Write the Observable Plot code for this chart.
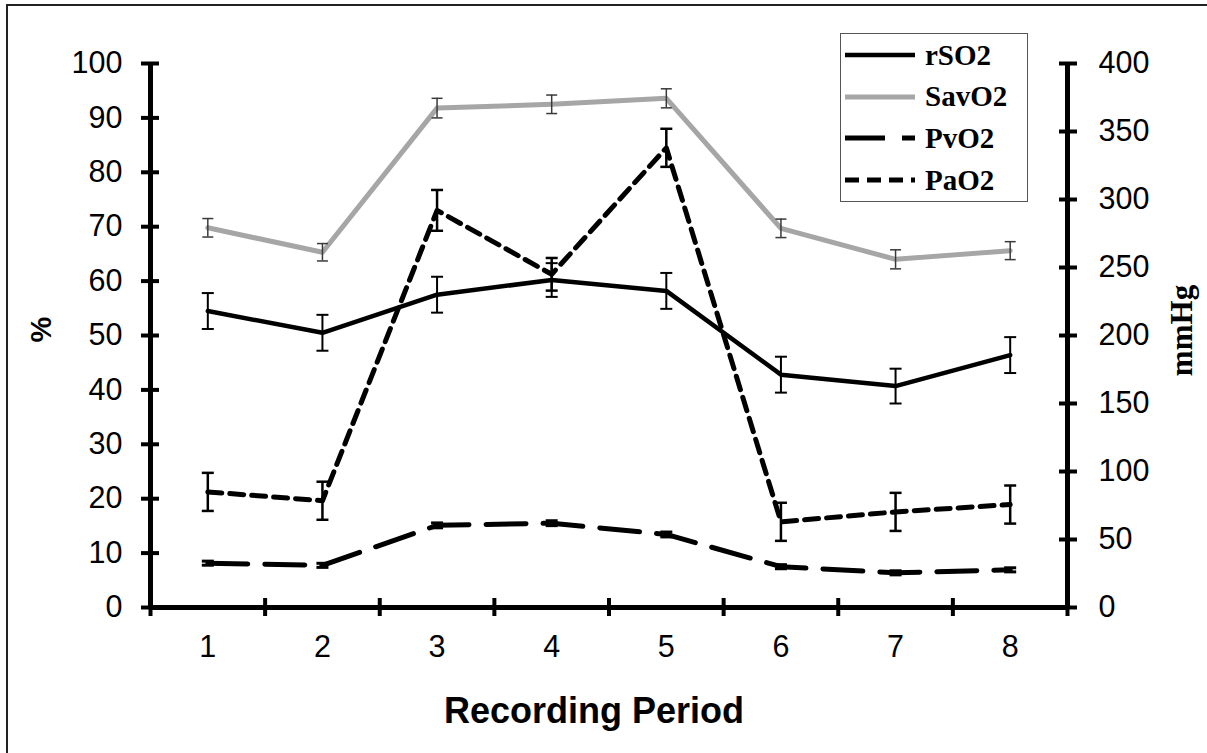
<!DOCTYPE html>
<html>
<head>
<meta charset="utf-8">
<script src="https://cdn.jsdelivr.net/npm/d3@7"></script>
<script src="https://cdn.jsdelivr.net/npm/@observablehq/plot@0.6"></script>
<style>
  body { margin: 0; background: #fff; overflow: hidden; }
  #wrap { position: relative; width: 1207px; height: 753px; overflow: hidden; background: #fff; }
  #chart svg { display: block; }
  #frame { position: absolute; left: 6px; top: 4px; width: 1400px; height: 1000px; border-top: 2px solid #222; border-left: 2px solid #222; box-sizing: border-box; pointer-events: none; }
  #legend { position: absolute; left: 840px; top: 33px; width: 188px; height: 169px; box-sizing: border-box; border: 1.5px solid #555; background: #fff; }
  .row { position: absolute; left: 0; height: 40px; display: flex; align-items: center; }
  .row svg { display: block; margin-left: 4px; }
  .row span { font-family: "Liberation Serif", "Times New Roman", serif; font-weight: bold; font-size: 29px; margin-left: 8px; color: #000; }
</style>
</head>
<body>
<div id="wrap"><div id="chart"></div><div id="frame"></div><div id="legend"></div></div>
<script>
// ---- data ----
const periods = [1, 2, 3, 4, 5, 6, 7, 8];
// percent series (left axis)
const rSO2     = [54.5, 50.5, 57.5, 60.2, 58.2, 42.8, 40.7, 46.4];
const rSO2Err  = [3.3, 3.3, 3.3, 3.1, 3.3, 3.3, 3.2, 3.3];
const SavO2    = [69.8, 65.3, 91.8, 92.5, 93.6, 69.7, 64.0, 65.6];
const SavO2Err = [1.7, 1.6, 1.8, 1.7, 1.75, 1.7, 1.75, 1.65];
// mmHg series (right axis)
const PvO2     = [32.6, 31.0, 60.4, 62.0, 53.7, 30.0, 25.5, 27.7];
const PvO2Err  = [1.5, 1.5, 1.8, 1.8, 1.8, 1.5, 1.5, 1.5];
const PaO2     = [85.0, 78.5, 292.0, 245.0, 338.0, 63.0, 70.3, 75.7];
const PaO2Err  = [14, 14, 15, 12, 14, 14, 14, 14];
// axes
const leftMax = 100, rightMax = 400;
const leftTicks = d3.range(0, leftMax + 1, 10);
const rightTickValues = d3.range(0, rightMax + 1, 50);
const xLabel = "Recording Period", leftLabel = "%", rightLabel = "mmHg";

const k = rightMax / leftMax; // mmHg per %
const xDomain = [periods[0] - 0.5, periods[periods.length - 1] + 0.5];
const xBoundaries = d3.range(xDomain[0], xDomain[1] + 0.01, 1);

const series = [
  {name: "SavO2", values: SavO2, errs: SavO2Err, scale: 1, stroke: "#a6a6a6", width: 5,   dash: null,    errStroke: "#3a3a3a", errWidth: 1.5, cap: 5.5},
  {name: "PvO2",  values: PvO2,  errs: PvO2Err,  scale: k, stroke: "#000",    width: 5,   dash: "40 17", errStroke: "#000",    errWidth: 3,   cap: 6},
  {name: "PaO2",  values: PaO2,  errs: PaO2Err,  scale: k, stroke: "#000",    width: 5,   dash: "14 8",  errStroke: "#000",    errWidth: 2.5, cap: 6},
  {name: "rSO2",  values: rSO2,  errs: rSO2Err,  scale: 1, stroke: "#000",    width: 4.5, dash: null,    errStroke: "#000",    errWidth: 2,   cap: 6}
];

const capSymbol = {
  draw(ctx, size) {
    const r = Math.sqrt(size / Math.PI);
    ctx.moveTo(-r, 0);
    ctx.lineTo(r, 0);
  }
};

const marks = [];
for (const s of series) {
  const rows = periods.map((p, i) => ({
    period: p,
    y: s.values[i] / s.scale,
    lo: (s.values[i] - s.errs[i]) / s.scale,
    hi: (s.values[i] + s.errs[i]) / s.scale
  }));
  marks.push(Plot.line(rows, {x: "period", y: "y", stroke: s.stroke, strokeWidth: s.width, strokeDasharray: s.dash, strokeLinejoin: "round"}));
  s.rows = rows;
}
for (const s of series) {
  marks.push(Plot.ruleX(s.rows, {x: "period", y1: "lo", y2: "hi", stroke: s.errStroke, strokeWidth: s.errWidth}));
  marks.push(Plot.dot(s.rows, {x: "period", y: "lo", symbol: capSymbol, r: s.cap, stroke: s.errStroke, strokeWidth: s.errWidth, fill: "none"}));
  marks.push(Plot.dot(s.rows, {x: "period", y: "hi", symbol: capSymbol, r: s.cap, stroke: s.errStroke, strokeWidth: s.errWidth, fill: "none"}));
}

const chart = Plot.plot({
  width: 1207,
  height: 753,
  marginLeft: 150,
  marginRight: 140,
  marginTop: 63,
  marginBottom: 146,
  x: {domain: xDomain, axis: null},
  y: {domain: [0, leftMax], axis: null, label: null},
  style: {fontFamily: "'Liberation Sans', Arial, sans-serif", background: "transparent", color: "#000"},
  marks: [
    ...marks,
    // axis lines
    Plot.ruleX(xDomain, {stroke: "#000", strokeWidth: 5}),
    Plot.ruleY([0], {stroke: "#000", strokeWidth: 5}),
    // left axis
    Plot.axisY(leftTicks, {anchor: "left", tickSize: 18, dx: 9, strokeWidth: 4, fill: "none", label: null}),
    Plot.axisY(leftTicks, {anchor: "left", tickSize: 0, tickPadding: 28, fontSize: 30.5, label: null}),
    // right axis (mmHg)
    Plot.axisY(rightTickValues.map(v => v / k), {anchor: "right", tickSize: 18, dx: -9, strokeWidth: 4, fill: "none", label: null}),
    Plot.axisY(rightTickValues.map(v => v / k), {anchor: "right", tickSize: 0, tickPadding: 31, fontSize: 30.5, tickFormat: d => String(Math.round(d * k)), label: null}),
    // x axis
    Plot.axisX(xBoundaries, {anchor: "bottom", tickSize: 18, dy: -9, strokeWidth: 4, fill: "none", label: null}),
    Plot.axisX(periods, {anchor: "bottom", tickSize: 0, tickPadding: 28, fontSize: 30.5, tickFormat: d => String(d), label: null}),
    // axis titles
    Plot.text([xLabel], {text: d => d, frameAnchor: "bottom", textAnchor: "middle", lineAnchor: "top", dy: 90, dx: -15, fontSize: 36, fontWeight: "bold"}),
    Plot.text([leftLabel], {text: d => d, frameAnchor: "left", textAnchor: "middle", rotate: -90, dx: -109, dy: -6, fontSize: 29, fontWeight: "bold"}),
    Plot.text([rightLabel], {text: d => d, frameAnchor: "right", textAnchor: "middle", rotate: -90, dx: 115, dy: -5, fontSize: 31, fontWeight: "bold", fontFamily: "'Liberation Serif', 'Times New Roman', serif"})
  ]
});
document.getElementById("chart").appendChild(chart);

// legend (HTML overlay inside the plot area, as in the reference)
const legendOrder = ["rSO2", "SavO2", "PvO2", "PaO2"];
const legend = document.getElementById("legend");
legendOrder.forEach((name, i) => {
  const s = series.find(d => d.name === name);
  const row = document.createElement("div");
  row.className = "row";
  row.style.top = (1 + i * 41.7) + "px";
  row.innerHTML = `<svg width="72" height="10"><line x1="0" x2="70" y1="5" y2="5" stroke="${s.stroke}" stroke-width="${s.width}" ${s.dash ? `stroke-dasharray="${s.dash}"` : ""}/></svg><span>${name}</span>`;
  legend.appendChild(row);
});
</script>
</body>
</html>
